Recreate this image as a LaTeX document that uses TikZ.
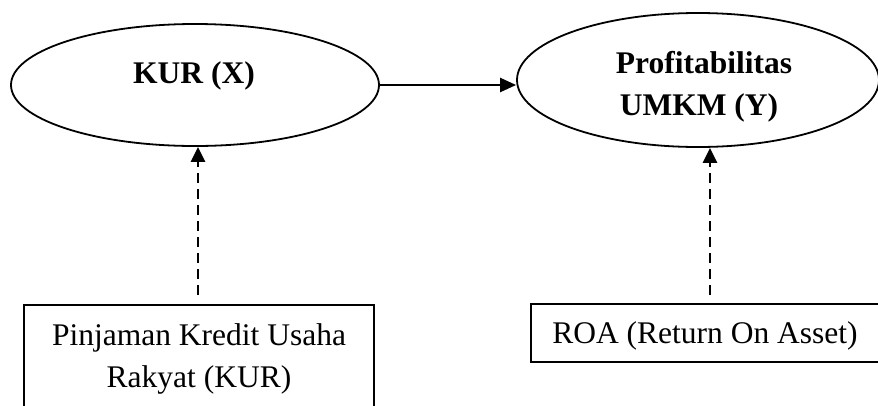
\documentclass[tikz,border=0pt]{standalone}
\usepackage{fontspec}
\setmainfont{Liberation Serif}
\usetikzlibrary{shapes.geometric,arrows.meta,calc}
\begin{document}
\begin{tikzpicture}[x=1pt,y=-1pt,
  oval/.style={draw, ellipse, line width=1.8pt, inner sep=0pt},
  boxstyle/.style={draw, rectangle, line width=2.2pt, inner sep=0pt},
  txt/.style={font=\fontsize{31.5}{42}\selectfont, anchor=base, inner sep=0pt},
  btxt/.style={font=\fontsize{31.5}{42}\selectfont\bfseries, anchor=base, inner sep=0pt},
  solidarrow/.style={line width=2.4pt, -{Triangle[length=16pt,width=14pt]}},
  dasharrow/.style={line width=2.4pt, dash pattern=on 10pt off 6pt, -{Triangle[length=15pt,width=14pt]}}
]
\useasboundingbox (0,0) rectangle (878,405);
\clip (0,0) rectangle (878,405);
% ellipses
\node[oval, minimum width=368pt, minimum height=122pt] (kur) at (195,85) {};
\node[oval, minimum width=362pt, minimum height=134pt] (prof) at (698,80) {};
\node[btxt] (kurt) at (194,83) {KUR (X)};
\node[btxt] (proft1) at (704,73) {Profitabilitas};
\node[btxt] (proft2) at (699,115) {UMKM (Y)};
% boxes
\node[boxstyle, minimum width=350pt, minimum height=121pt, anchor=north] (pk) at (199,304) {};
\node[txt] (pk1) at (199,345) {Pinjaman Kredit Usaha};
\node[txt] (pk2) at (199,387) {Rakyat (KUR)};
\node[boxstyle, minimum width=348pt, minimum height=58pt, anchor=north] (roa) at (705,303) {};
\node[txt] (roat) at (705,343) {ROA (Return On Asset)};
% connectors
\coordinate (pkend) at (198,295);
\coordinate (roaend) at (710,295);
\draw[solidarrow] (kur.east) -- (kur.east -| prof.west);
\draw[dasharrow] (pkend) -- (pkend |- kur.south);
\draw[dasharrow] (roaend) -- (roaend |- prof.south);
\end{tikzpicture}
\end{document}
